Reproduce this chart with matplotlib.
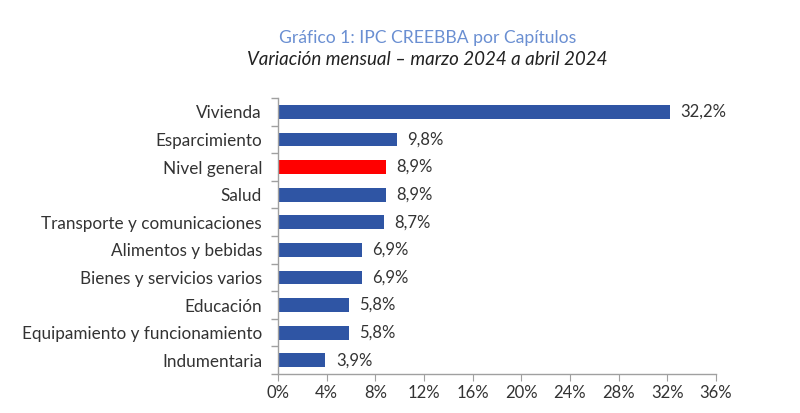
import matplotlib
matplotlib.use("Agg")
import matplotlib.pyplot as plt
from matplotlib.ticker import FuncFormatter, MultipleLocator

categories = ["Vivienda", "Esparcimiento", "Nivel general", "Salud",
              "Transporte y comunicaciones", "Alimentos y bebidas",
              "Bienes y servicios varios", "Educación",
              "Equipamiento y funcionamiento", "Indumentaria"]
values = [32.2, 9.8, 8.9, 8.9, 8.7, 6.9, 6.9, 5.8, 5.8, 3.9]
highlight = "Nivel general"

plt.rcParams['font.family'] = ['Lato', 'DejaVu Sans']

fig = plt.figure(figsize=(8.0, 4.13), dpi=100)
ax = fig.add_axes([0.3475, 0.0944, 0.5475, 0.6683])

blue = "#2F55A4"
red = "#FF0000"
colors = [red if c == highlight else blue for c in categories]
y = list(range(len(categories)))
ax.barh(y, values, height=0.5, color=colors)
ax.set_ylim(len(categories) - 0.5, -0.5)
ax.set_xlim(0, 36)
ax.xaxis.set_major_locator(MultipleLocator(4))
ax.xaxis.set_major_formatter(FuncFormatter(lambda v, p: f"{v:.0f}%"))

for yi, v in zip(y, values):
    ax.text(v + 0.85, yi, f"{v:.1f}".replace(".", ",") + "%", va="center",
            ha="left", fontsize=12, color="#333333")

ax.set_yticks(y)
ax.set_yticklabels(categories)
ax.set_yticks([i - 0.5 for i in range(len(categories) + 1)], minor=True)
ax.tick_params(axis="y", which="major", length=0, pad=11.5, labelsize=12.3, labelcolor="#333333")
ax.tick_params(axis="y", which="minor", length=5, color="#A0A0A0", width=1)
ax.tick_params(axis="x", length=5, color="#A0A0A0", labelsize=12, labelcolor="#333333", pad=3)

for s in ["top", "right"]:
    ax.spines[s].set_visible(False)
for s in ["left", "bottom"]:
    ax.spines[s].set_color("#A0A0A0")
    ax.spines[s].set_linewidth(1)

fig.text(0.534, 0.908, "Gráfico 1: IPC CREEBBA por Capítulos", ha="center", va="center",
         fontsize=12.6, color="#6A8FD2")
fig.text(0.534, 0.857, "Variación mensual – marzo 2024 a abril 2024", ha="center", va="center",
         fontsize=13.5, color="#222222", style="italic")

fig.savefig("out.png", dpi=100)
